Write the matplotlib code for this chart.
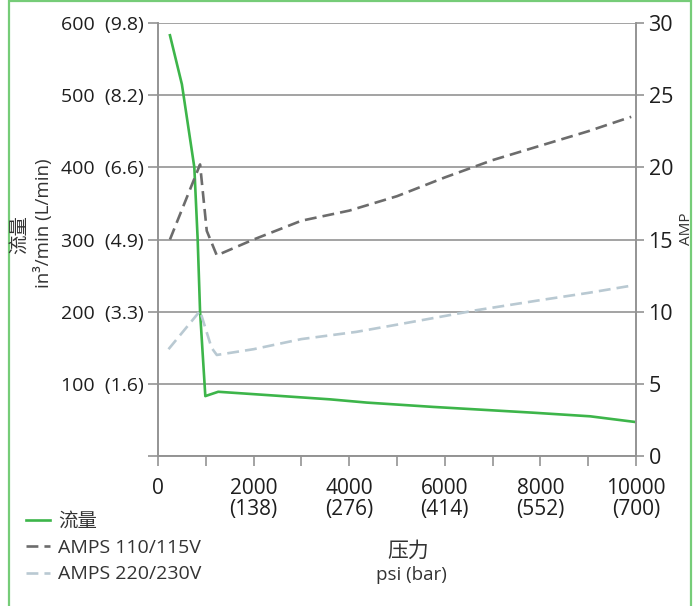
import matplotlib
matplotlib.use('Agg')
import matplotlib.pyplot as plt
from matplotlib.patches import Rectangle

plt.rcParams['font.family'] = ['Open Sans', 'Noto Sans CJK SC', 'DejaVu Sans']

# data
flow_psi = [250, 500, 760, 830, 880, 990, 1260, 2270, 3600, 4370, 5760, 7850, 9040, 10000]
flow = [583, 515, 400, 300, 200, 83, 89, 84.5, 78.5, 74, 68, 60, 55, 47]

amp110_psi = [250, 880, 1020, 1230, 2000, 3000, 4000, 5000, 6000, 7000, 8000, 9000, 9900]
amp110 = [15.0, 20.2, 15.6, 13.9, 15.0, 16.3, 17.0, 18.0, 19.3, 20.5, 21.5, 22.5, 23.5]

amp220_psi = [220, 880, 1120, 1230, 2000, 3000, 4150, 5000, 6000, 6660, 8000, 9000, 9900]
amp220 = [7.4, 10.05, 7.5, 7.0, 7.4, 8.1, 8.6, 9.1, 9.7, 10.1, 10.8, 11.3, 11.8]

x_ticks = [0, 2000, 4000, 6000, 8000, 10000]
x_labels = ['0', '2000\n(138)', '4000\n(276)', '6000\n(414)', '8000\n(552)', '10000\n(700)']
y_ticks = [0, 100, 200, 300, 400, 500, 600]
y_labels = ['', '100  (1.6)', '200  (3.3)', '300  (4.9)', '400  (6.6)', '500  (8.2)', '600  (9.8)']
amp_ticks = [0, 5, 10, 15, 20, 25, 30]

green = '#3db54a'
dark = '#6c6c6c'
light = '#b9c9d2'
axcol = '#939393'
txt = '#1e1e1e'

fig = plt.figure(figsize=(6.97, 6.06), dpi=100)
ax = fig.add_axes([158/697, 1-456/606, 478/697, 433/606])
ax2 = ax.twinx()

l1, = ax.plot(flow_psi, flow, color=green, lw=1.9, label='流量')
l2, = ax2.plot(amp110_psi, amp110, color=dark, lw=1.9, dashes=(4.5, 2.3), label='AMPS 110/115V')
l3, = ax2.plot(amp220_psi, amp220, color=light, lw=1.9, dashes=(4.5, 2.3), label='AMPS 220/230V')

ax.set_xlim(0, 10000)
ax.set_ylim(0, 600)
ax2.set_ylim(0, 30)
ax.set_xticks(x_ticks)
ax.set_xticklabels(x_labels, fontsize=15, linespacing=1.0)
ax.set_xticks(range(1000, 10000, 2000), minor=True)
ax.set_yticks(y_ticks)
ax.set_yticklabels(y_labels, fontsize=14)
ax2.set_yticks(amp_ticks)
ax2.set_yticklabels([str(t) for t in amp_ticks], fontsize=15.5)

ax.grid(axis='y', color=axcol, lw=1.2)
ax.set_axisbelow(True)
for a in (ax, ax2):
    for s in a.spines.values():
        s.set_color(axcol)
        s.set_linewidth(1.2)
    a.spines['top'].set_visible(False)
ax.tick_params(axis='x', which='both', length=7, width=1.2, color=axcol, pad=9, labelcolor=txt)
ax.tick_params(axis='y', length=7, width=1.2, color=axcol, pad=3, labelcolor=txt)
ax2.tick_params(axis='y', length=6, width=1.2, color=axcol, pad=3, labelcolor=txt)

# axis titles
fig.text(20/697, 1-234/606, '流量', rotation=90, fontsize=14, ha='center', va='center', color='#333333')
fig.text(43/697, 1-223/606, 'in³/min (L/min)', rotation=90, fontsize=13.5, ha='center', va='center', color='#333333')
fig.text(686/697, 1-229/606, 'AMP', rotation=90, fontsize=11, ha='center', va='center', color='#333333')
fig.text(408/697, 1-551/606, '压力', fontsize=15, ha='center', va='center', color='#333333')
fig.text(411/697, 1-575/606, 'psi (bar)', fontsize=13.5, ha='center', va='center', color='#333333')

fig.legend(handles=[l1, l2, l3], loc='upper left', bbox_to_anchor=(26/697, 1-513/606),
           frameon=False, fontsize=14, handlelength=1.25, handletextpad=0.4,
           labelspacing=0.42, borderaxespad=0, borderpad=0, labelcolor='#333333')

# green frame around the figure
fig.patches.append(Rectangle((9/697, -0.1), 682/697, 1.1 - 1/606, transform=fig.transFigure,
                             fill=False, edgecolor='#76cc78', lw=1.6))

fig.savefig('out.png', dpi=100)
